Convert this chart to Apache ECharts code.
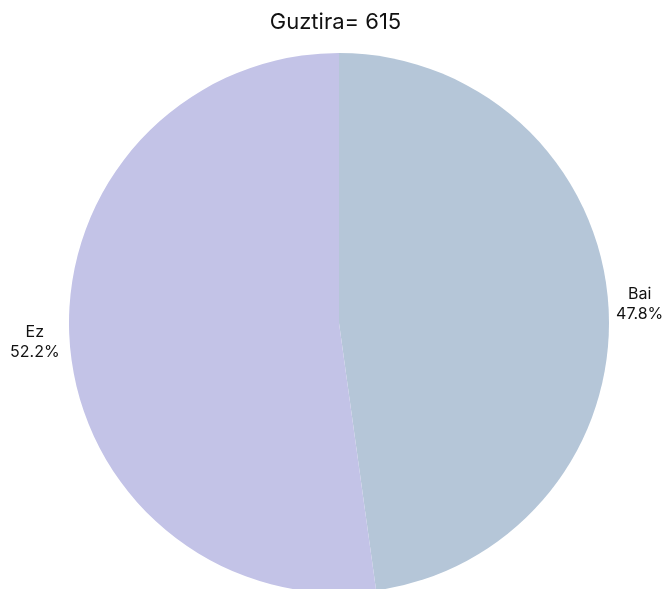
<!DOCTYPE html>
<html>
<head>
    <meta charset="utf-8">
    <title>Guztira</title>
    <script src="https://cdn.jsdelivr.net/npm/echarts@6/dist/echarts.min.js"></script>
    <style>
        html, body { margin: 0; padding: 0; background: #ffffff; }
        #main { width: 671px; height: 589px; }
    </style>
</head>
<body>
    <div id="main"></div>
    <script>
        const categories = ['Bai', 'Ez'];
        const counts = [294, 321];
        const colors = ['#b5c6d8', '#c3c3e7'];
        const total = 615;

        var myChart = echarts.init(document.getElementById('main'));

        const option = {
            title: {
                text: 'Guztira= ' + total,
                left: 'center',
                top: 6,
                textStyle: {
                    fontFamily: 'Inter, sans-serif',
                    fontSize: 22,
                    fontWeight: 'normal',
                    color: '#111'
                }
            },
            series: [{
                type: 'pie',
                center: [339, 323],
                radius: [0, 270],
                startAngle: 90,
                clockwise: true,
                animation: false,
                data: categories.map((c, i) => ({
                    name: c,
                    value: counts[i],
                    itemStyle: { color: colors[i] }
                })),
                label: {
                    show: true,
                    position: 'outside',
                    overflow: 'none',
                    formatter: p => '{t|' + p.name + '}\n{t|' + p.percent.toFixed(1) + '%}',
                    rich: {
                        t: {
                            fontFamily: 'Inter, sans-serif',
                            fontSize: 16,
                            lineHeight: 20,
                            width: 50,
                            align: 'center',
                            color: '#111'
                        }
                    }
                },
                labelLine: { show: false, length: 5, length2: 0 },
                emphasis: { disabled: true }
            }]
        };

        myChart.setOption(option);
    </script>
</body>
</html>
